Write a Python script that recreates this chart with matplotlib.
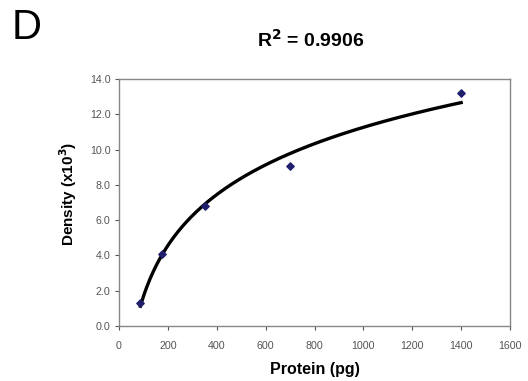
import numpy as np
import matplotlib
matplotlib.use("Agg")
import matplotlib.pyplot as plt

plt.rcParams['font.family'] = ['Liberation Sans', 'DejaVu Sans']

protein = [87.5, 175, 350, 700, 1400]
density = [1.29, 4.06, 6.82, 9.09, 13.2]
r2_text = "R$^{\\mathbf{2}}$ = 0.9906"
xticks = [0, 200, 400, 600, 800, 1000, 1200, 1400, 1600]
yticks = [0, 2, 4, 6, 8, 10, 12, 14]

fig = plt.figure(figsize=(5.28, 3.81), dpi=100)
ax = fig.add_axes([119/528, 1-326/381, (510-119)/528, (326-79)/381])

# logarithmic trendline fitted to the data
lx = np.log(protein)
a, b = np.polyfit(lx, density, 1)
xs = np.linspace(min(protein), max(protein), 300)
ax.plot(xs, a*np.log(xs) + b, color='black', lw=2.4, zorder=2)
ax.scatter(protein, density, marker='D', s=14, color='#1f1f6b', zorder=3)

ax.set_xlim(0, 1600)
ax.set_ylim(0, 14)
ax.set_xticks(xticks)
ax.set_yticks(yticks)
ax.set_yticklabels([f"{v:.1f}" for v in yticks])
ax.tick_params(labelsize=7.7, colors='#555555', length=3, width=0.8, direction='out', pad=3)
ax.tick_params(axis='x', pad=8)
for s in ax.spines.values():
    s.set_color('#888888')
    s.set_linewidth(1.0)

ax.set_xlabel("Protein (pg)", fontsize=11.5, fontweight='bold', labelpad=8)
ax.set_ylabel("Density (x10$^{\\mathbf{3}}$)", fontsize=11, fontweight='bold', labelpad=8)
ax.yaxis.label.set_y(0.535)

fig.text(311/528, 1-40/381, r2_text, fontsize=14, fontweight='bold', ha='center', va='center')
fig.text(12/528, 1-28/381, "D", fontsize=30, ha='left', va='center')

fig.savefig("out.png", dpi=100)
